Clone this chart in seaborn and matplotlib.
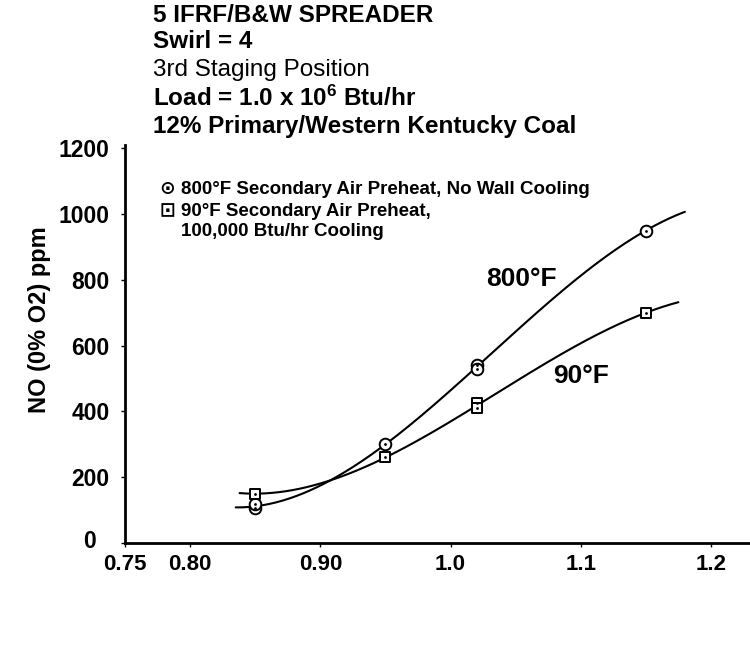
import numpy as np
import pandas as pd
import matplotlib
matplotlib.use("Agg")
import matplotlib.pyplot as plt
import matplotlib.transforms as mtransforms
import seaborn as sns

# ---- data ----
x_800 = [0.85, 0.85, 0.95, 1.02, 1.02, 1.15]
y_800 = [105, 118, 300, 540, 530, 950]
x_90 = [0.85, 0.95, 1.02, 1.02, 1.15]
y_90 = [150, 260, 425, 410, 700]
range_800 = [0.835, 1.18]
range_90 = [0.838, 1.175]

x_ticks = [0.75, 0.80, 0.90, 1.0, 1.1, 1.2]
x_tick_labels = ["0.75", "0.80", "0.90", "1.0", "1.1", "1.2"]
y_ticks = [0, 200, 400, 600, 800, 1000, 1200]

title_lines = ["5 IFRF/B&W SPREADER", "Swirl = 4", "3rd Staging Position",
               "Load = 1.0 x 10$^{\\mathregular{6}}$ Btu/hr",
               "12% Primary/Western Kentucky Coal"]
legend_lines = ["\u2299 800\u00b0F Secondary Air Preheat, No Wall Cooling",
                "\u22a1 90\u00b0F Secondary Air Preheat,",
                "    100,000 Btu/hr Cooling"]

sns.set_theme(style="white")
plt.rcParams["font.family"] = ["Liberation Sans", "DejaVu Sans"]
plt.rcParams["mathtext.default"] = "regular"
for k in ["text.color", "axes.labelcolor", "xtick.color", "ytick.color"]:
    plt.rcParams[k] = "black"

fig = plt.figure(figsize=(7.5, 6.6), dpi=100)
ax = fig.add_axes([125 / 750, (660 - 543) / 660, 625 / 750, (543 - 145) / 660])

def smooth(xs, ys, rng):
    coef = np.polyfit(xs, ys, 3)
    xx = np.linspace(rng[0], rng[1], 200)
    return pd.DataFrame({"x": xx, "y": np.polyval(coef, xx)})

c800 = smooth(x_800, y_800, range_800)
c90 = smooth(x_90, y_90, range_90)
sns.lineplot(data=c800, x="x", y="y", ax=ax, color="black", linewidth=1.5)
sns.lineplot(data=c90, x="x", y="y", ax=ax, color="black", linewidth=1.5)

d800 = pd.DataFrame({"x": x_800, "y": y_800})
d90 = pd.DataFrame({"x": x_90, "y": y_90})
sns.scatterplot(data=d800, x="x", y="y", ax=ax, marker="o", s=70,
                facecolor="white", edgecolor="black", linewidth=1.4, zorder=3)
sns.scatterplot(data=d90, x="x", y="y", ax=ax, marker="s", s=60,
                facecolor="white", edgecolor="black", linewidth=1.4, zorder=3)
sns.scatterplot(data=d800, x="x", y="y", ax=ax, marker="o", s=4,
                color="black", linewidth=0, zorder=4)
sns.scatterplot(data=d90, x="x", y="y", ax=ax, marker="o", s=4,
                color="black", linewidth=0, zorder=4)

ax.set_xlim(0.75, 1.23)
ax.set_ylim(0, 1210)
ax.set_xticks(x_ticks)
ax.set_xticklabels(x_tick_labels, fontsize=16, fontweight="bold")
ax.set_yticks(y_ticks)
ax.set_yticklabels([str(v) for v in y_ticks], fontsize=16.5, fontweight="bold")
ax.tick_params(axis="both", length=3, width=1, color="black", direction="out",
               pad=5, bottom=True, left=True)
ax.tick_params(axis="y", pad=8)
ax.set_xlabel("")
ax.set_ylabel("NO (0% O2) ppm", fontsize=17, fontweight="bold")
ax.yaxis.set_label_coords(-0.118, 0.56)
for side in ["top", "right"]:
    ax.spines[side].set_visible(False)
for side in ["left", "bottom"]:
    ax.spines[side].set_color("black")
    ax.spines[side].set_linewidth(2)
ax.grid(False)

# nudge the "0" label up-left like the reference
zero_lab = ax.get_yticklabels()[0]
zero_lab.set_transform(zero_lab.get_transform() +
                       mtransforms.ScaledTranslation(-14 / 100, 4 / 100, fig.dpi_scale_trans))

# curve labels
ax.text(1.027, 803, "800\u00b0F", fontsize=19, fontweight="bold", va="center", ha="left")
ax.text(1.079, 509, "90\u00b0F", fontsize=19, fontweight="bold", va="center", ha="left")

# legend block
leg_y = [190, 211, 232]
for txt, yy in zip(legend_lines, leg_y):
    fig.text(160 / 750, 1 - yy / 660, txt, fontsize=13.5, fontweight="bold",
             va="center", ha="left", family=["Liberation Sans", "DejaVu Sans"])

# title block
title_y = [16, 42, 70, 98, 126]
weights = ["bold", "bold", "normal", "bold", "bold"]
for txt, yy, w in zip(title_lines, title_y, weights):
    fig.text(153 / 750, 1 - yy / 660, txt, fontsize=17.5, fontweight=w,
             va="center", ha="left")

fig.savefig("out.png", dpi=100)
